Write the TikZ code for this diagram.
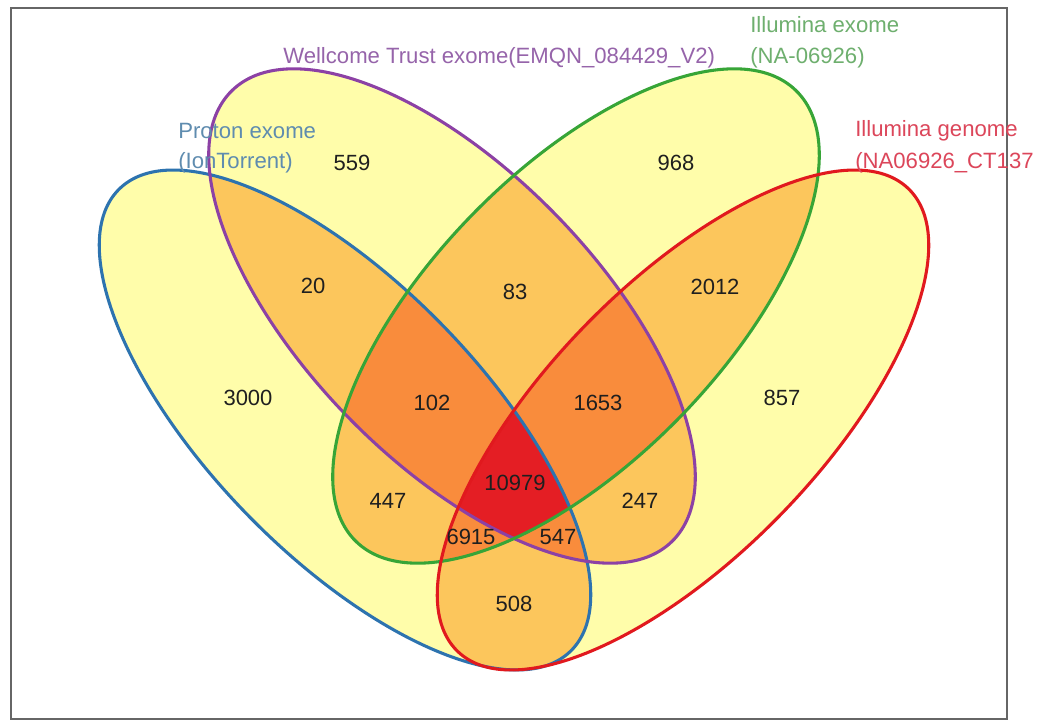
\documentclass[tikz,border=0pt]{standalone}
\usepackage{fontspec}
\setmainfont{Liberation Sans}
\definecolor{cOne}{RGB}{255,253,170}
\definecolor{cTwo}{RGB}{252,198,92}
\definecolor{cThree}{RGB}{249,140,60}
\definecolor{cFour}{RGB}{228,30,36}
\definecolor{lBlue}{RGB}{45,115,175}
\definecolor{lPurple}{RGB}{140,65,165}
\definecolor{lGreen}{RGB}{55,165,55}
\definecolor{lRed}{RGB}{225,25,30}
\definecolor{tBlue}{RGB}{95,140,175}
\definecolor{tPurple}{RGB}{150,100,170}
\definecolor{tGreen}{RGB}{110,175,110}
\definecolor{tRed}{RGB}{220,70,90}
\newcommand\shpBlue[1]{\path[#1,rotate around={-45.7:(345,420)}] (345,420) ellipse [x radius=323, y radius=136];}
\newcommand\shpPurple[1]{\path[#1,rotate around={-45.7:(452,316)}] (452,316) ellipse [x radius=315, y radius=145];}
\newcommand\shpGreen[1]{\path[#1,rotate around={45.7:(576,316)}] (576,316) ellipse [x radius=315, y radius=145];}
\newcommand\shpRed[1]{\path[#1,rotate around={45.7:(683,420)}] (683,420) ellipse [x radius=323, y radius=136];}
\begin{document}
\begin{tikzpicture}[x=0.75pt,y=-0.75pt,
  num/.style={inner sep=0pt,text=black!88,font=\fontsize{16.5}{19}\selectfont},
  lab/.style={inner sep=0pt,anchor=west,font=\fontsize{16.6}{19}\selectfont},
  edge/.style={line width=2.3pt}]
\useasboundingbox (0,0) rectangle (1050,724);
\clip (0,0) rectangle (1050,724);
\fill[white] (0,0) rectangle (1050,724);
\draw[line width=1.5pt,black!60] (11,8) rectangle (1007,719);
% single sets
\shpBlue{fill=cOne}
\shpPurple{fill=cOne}
\shpGreen{fill=cOne}
\shpRed{fill=cOne}
% pairs
\begin{scope}\shpBlue{clip}\shpPurple{fill=cTwo}\shpGreen{fill=cTwo}\shpRed{fill=cTwo}\end{scope}
\begin{scope}\shpPurple{clip}\shpGreen{fill=cTwo}\shpRed{fill=cTwo}\end{scope}
\begin{scope}\shpGreen{clip}\shpRed{fill=cTwo}\end{scope}
% triples
\begin{scope}\shpBlue{clip}\shpPurple{clip}\shpGreen{fill=cThree}\shpRed{fill=cThree}\end{scope}
\begin{scope}\shpBlue{clip}\shpGreen{clip}\shpRed{fill=cThree}\end{scope}
\begin{scope}\shpPurple{clip}\shpGreen{clip}\shpRed{fill=cThree}\end{scope}
% all four
\begin{scope}\shpBlue{clip}\shpPurple{clip}\shpGreen{clip}\shpRed{fill=cFour}\end{scope}
% outlines
\shpBlue{draw=lBlue,edge}
\shpPurple{draw=lPurple,edge}
\shpGreen{draw=lGreen,edge}
\shpRed{draw=lRed,edge}
% counts
\node[num] (n559) at (352,163) {559};
\node[num] (n968) at (676,163) {968};
\node[num] (n20) at (313,286) {20};
\node[num] (n83) at (515,292) {83};
\node[num] (n2012) at (715,287) {2012};
\node[num] (n3000) at (248,398) {3000};
\node[num] (n102) at (432,403) {102};
\node[num] (n1653) at (598,403) {1653};
\node[num] (n857) at (782,398) {857};
\node[num] (n10979) at (515,483) {10979};
\node[num] (n447) at (388,501) {447};
\node[num] (n247) at (640,501) {247};
\node[num] (n6915) at (471,537) {6915};
\node[num] (n547) at (558,537) {547};
\node[num] (n508) at (514,604) {508};
% set labels
\node[lab,text=tPurple] (lW) at (283,58) {Wellcome Trust exome(EMQN\_084429\_V2)};
\node[lab,text=tGreen] (lIE1) at (750,25) {Illumina exome};
\node[lab,text=tGreen] (lIE2) at (750,58) {(NA-06926)};
\node[lab,text=tBlue] (lP1) at (178,131) {Proton exome};
\node[lab,text=tBlue] (lP2) at (178,163) {(IonTorrent)};
\node[lab,text=tRed] (lIG1) at (855,131) {Illumina genome};
\node[lab,text=tRed] (lIG2) at (855,163) {(NA06926\_CT137};
\end{tikzpicture}
\end{document}
